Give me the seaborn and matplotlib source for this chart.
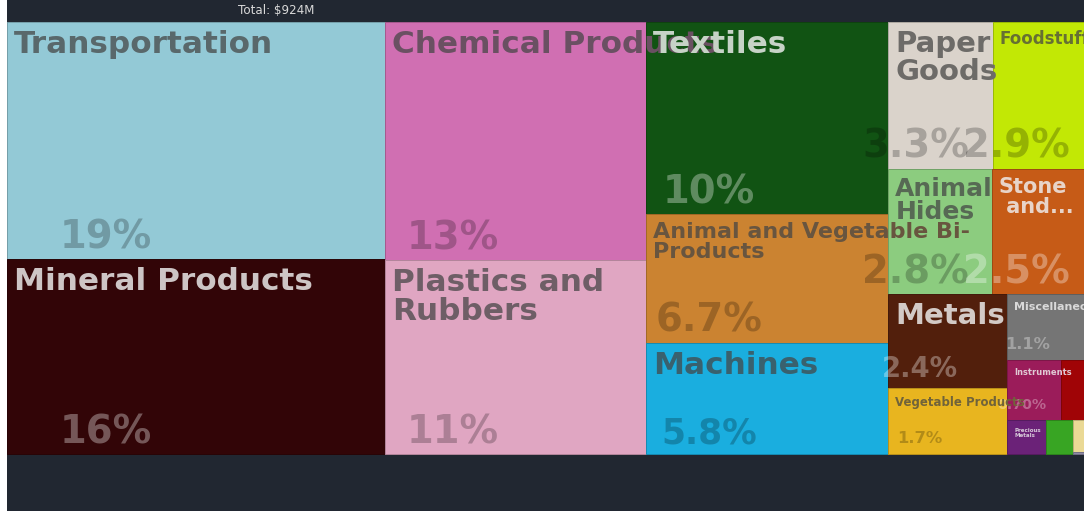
import matplotlib
matplotlib.use("Agg")
import matplotlib.pyplot as plt
import seaborn as sns
import pandas as pd
from matplotlib.patches import Rectangle
from matplotlib.colors import to_rgb

# ---------------- data ----------------
categories = [
    "Transportation", "Mineral Products", "Chemical Products", "Plastics and Rubbers",
    "Textiles", "Animal and Vegetable Bi-Products", "Machines", "Paper Goods",
    "Foodstuffs", "Animal Hides", "Stone And Glass", "Metals", "Vegetable Products",
    "Miscellaneous", "Instruments", "Weapons", "Precious Metals", "Animal Products",
    "Wood Products", "Footwear and Headwear",
]
values_musd = [
    178.0, 146.0, 123.5, 100.5,
    92.5, 62.0, 53.6, 30.5,
    26.6, 25.8, 22.9, 22.2, 15.6,
    10.0, 6.5, 2.7, 2.6, 1.8,
    0.7, 0.05,
]
colors = [
    "#93c9d6", "#320507", "#d06fb2", "#e0a6c2",
    "#115313", "#cb8331", "#1aaedf", "#dad3cb",
    "#c2e805", "#8ccc7f", "#c65b17", "#521f0c", "#e8b51f",
    "#757575", "#9b1c5a", "#a00406", "#6b2278", "#38a523",
    "#ead995", "#8e8aa6",
]

# ---------------- label styling (display text, font size in pt) ----------------
label_style = {
    "Transportation": ("Transportation", 22.4),
    "Mineral Products": ("Mineral Products", 22.4),
    "Chemical Products": ("Chemical Products", 22.4),
    "Plastics and Rubbers": ("Plastics and\nRubbers", 22.4),
    "Textiles": ("Textiles", 22.4),
    "Animal and Vegetable Bi-Products": ("Animal and Vegetable Bi-\nProducts", 16),
    "Machines": ("Machines", 22.4),
    "Paper Goods": ("Paper\nGoods", 21),
    "Foodstuffs": ("Foodstuffs", 12),
    "Animal Hides": ("Animal\nHides", 18),
    "Stone And Glass": ("Stone\n and...", 15),
    "Metals": ("Metals", 21),
    "Vegetable Products": ("Vegetable Products", 8.5),
    "Miscellaneous": ("Miscellaneous", 8),
    "Instruments": ("Instruments", 6),
    "Precious Metals": ("Precious\nMetals", 4),
}

df = pd.DataFrame({"category": categories, "value": values_musd, "color": colors})
total = df["value"].sum()
df["share"] = df["value"] / total * 100


def squarify_d3(vals, x0, y0, x1, y1, ratio=(1 + 5 ** 0.5) / 2):
    """d3.treemapSquarify layout (y grows downward)."""
    rects = [None] * len(vals)
    n = len(vals)
    i0 = i1 = 0
    value = float(sum(vals))
    while i0 < n:
        dx, dy = x1 - x0, y1 - y0
        sumv = vals[i1]
        i1 += 1
        minv = maxv = sumv
        alpha = max(dy / dx, dx / dy) / (value * ratio)
        beta = sumv * sumv * alpha
        minr = max(maxv / beta, beta / minv)
        while i1 < n:
            nv = vals[i1]
            s = sumv + nv
            mn, mx = min(minv, nv), max(maxv, nv)
            beta = s * s * alpha
            nr = max(mx / beta, beta / mn)
            if nr > minr:
                break
            sumv, minv, maxv, minr = s, mn, mx, nr
            i1 += 1
        row = list(range(i0, i1))
        if dx < dy:
            h = dy * sumv / value
            cx = x0
            for i in row:
                w = dx * vals[i] / sumv
                rects[i] = (cx, y0, w, h)
                cx += w
            y0 += h
        else:
            w = dx * sumv / value
            cy = y0
            for i in row:
                h = dy * vals[i] / sumv
                rects[i] = (x0, cy, w, h)
                cy += h
            x0 += w
        value -= sumv
        i0 = i1
    return rects


def fmt_share(v):
    if v >= 9.95:
        return f"{v:.0f}%"
    if v >= 0.995:
        return f"{v:.1f}%"
    return f"{v:.2f}%"


def is_dark(c):
    r, g, b = to_rgb(c)
    return (0.299 * r + 0.587 * g + 0.114 * b) < 0.5


def mix(c, base, a):
    c, base = to_rgb(c), to_rgb(base)
    return tuple(a * ci + (1 - a) * bi for ci, bi in zip(c, base))


sns.set_theme(style="white")
plt.rcParams["font.family"] = ["DejaVu Sans"]

W_PX, H_PX = 1084, 511
fig = plt.figure(figsize=(W_PX / 100, H_PX / 100), dpi=100, facecolor="white")
LEFT = 7
ax = fig.add_axes([LEFT / W_PX, 0, (W_PX - LEFT) / W_PX, 1])
ax.set_facecolor("#212731")
ax.set_xlim(LEFT, W_PX)
ax.set_ylim(H_PX, 0)
ax.axis("off")
ax.add_patch(Rectangle((LEFT, 0), W_PX - LEFT, H_PX, facecolor="#212731",
                       edgecolor="none", zorder=0))

TX0, TY0, TX1, TY1 = LEFT, 22, W_PX, 454
rects = squarify_d3(list(df["value"]), TX0, TY0, TX1, TY1)

for (x, y, w, h), col in zip(rects, df["color"]):
    r, g, b = to_rgb(col)
    ax.add_patch(Rectangle((x, y), w, h, facecolor=col,
                           edgecolor=(r * 0.8, g * 0.8, b * 0.8), lw=0.7, zorder=1))

# share labels
for (x, y, w, h), col, share in zip(rects, df["color"], df["share"]):
    dark = is_dark(col)
    if w >= 40 and h >= 50:
        px = min(38.5, 0.4 * h - 10)
        ax.text(x + 0.262 * w, y + h - 11, fmt_share(share), ha="center", va="baseline",
                fontsize=px * 0.72, fontweight="bold",
                color="white" if dark else "black", alpha=0.33 if dark else 0.23, zorder=3)

# name labels
for (x, y, w, h), cat, col in zip(rects, df["category"], df["color"]):
    dark = is_dark(col)
    if cat in label_style and w >= 35:
        txt, fs = label_style[cat]
        tcol = mix(col, "#efefef", 0.18) if dark else mix(col, "#444444", 0.27)
        ax.text(x + 7, y + 8, txt, ha="left", va="top", fontsize=fs, fontweight="bold",
                color=tcol, linespacing=0.98, zorder=4)

ax.text(TX0 + (TX1 - TX0) / 4, 10, f"Total: ${total:.0f}M", ha="center", va="center",
        fontsize=8.6, color="#d8d8d8", zorder=5)

fig.savefig("out.png", dpi=100, facecolor=fig.get_facecolor())
